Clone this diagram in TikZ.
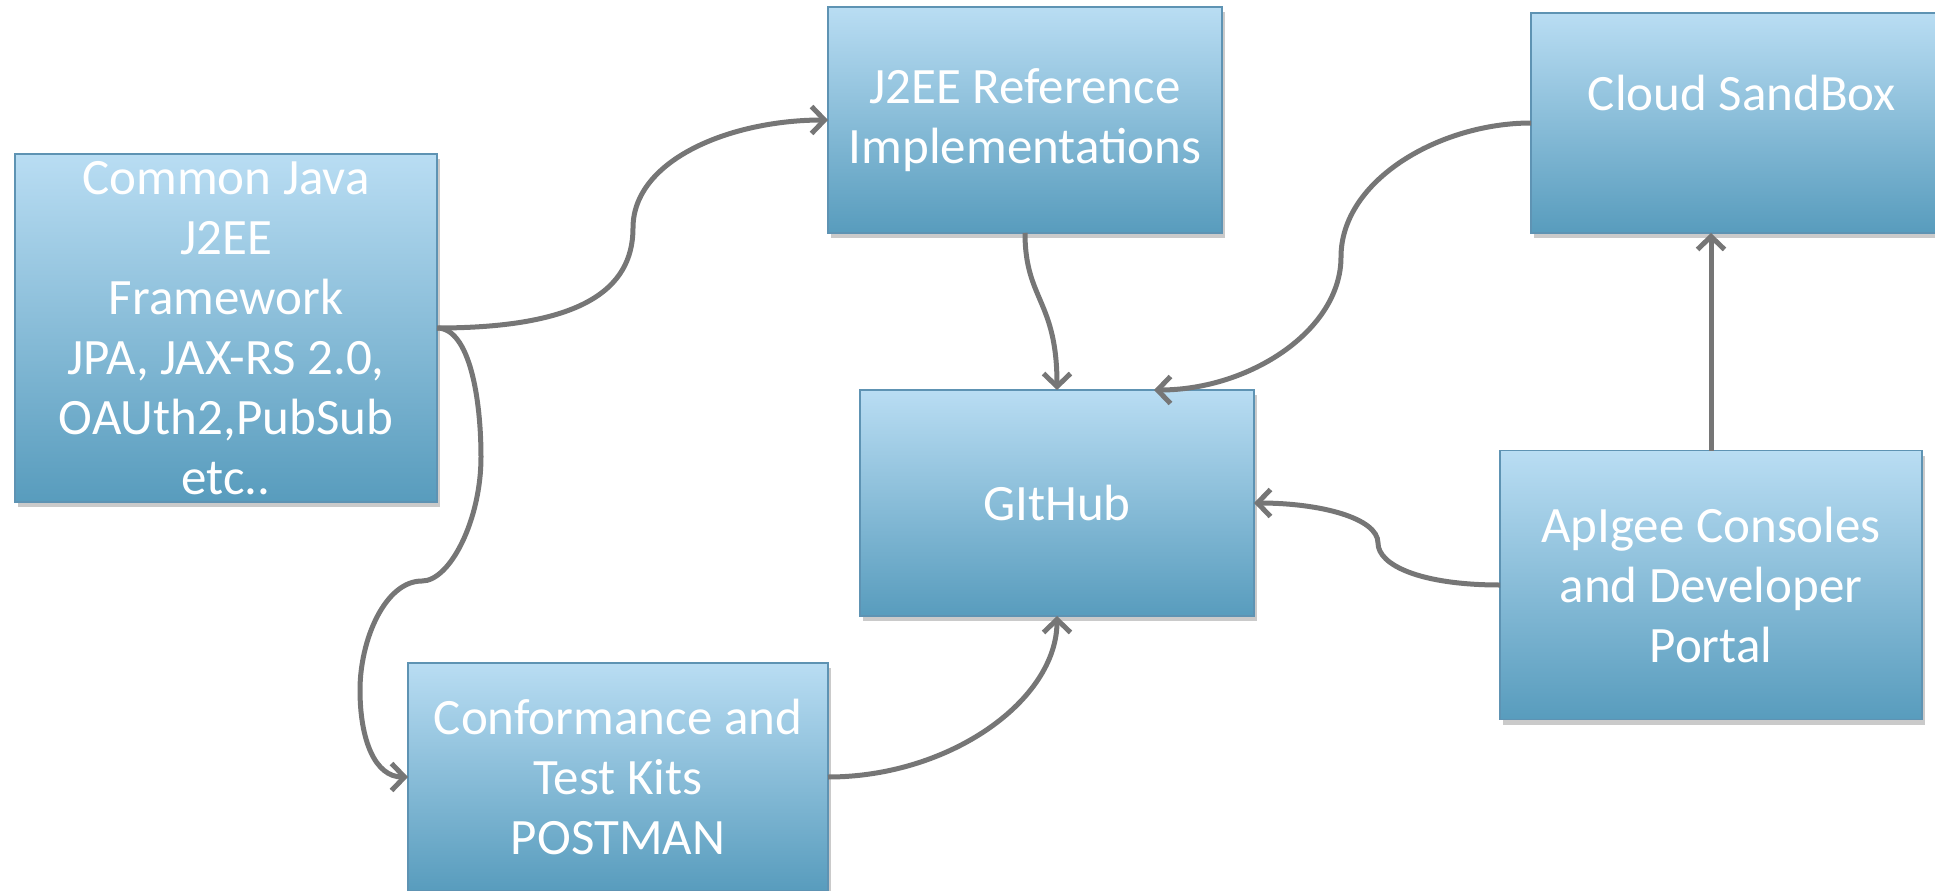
\documentclass[tikz,border=0pt]{standalone}
\usepackage{fontspec}
\setmainfont{Carlito}
\usetikzlibrary{arrows.meta,shadows,calc}
\definecolor{boxtop}{HTML}{B9DDF3}
\definecolor{boxbot}{HTML}{589CBD}
\definecolor{boxedge}{HTML}{5E93B3}
\definecolor{conncol}{HTML}{767676}
\tikzset{
  box/.style={rectangle, draw=boxedge, line width=1.2pt, top color=boxtop, bottom color=boxbot,
    inner sep=0pt, outer sep=0pt, text=white, align=center,
    font=\fontsize{51}{60}\selectfont,
    drop shadow={shadow xshift=3pt, shadow yshift=-5pt, opacity=0.35, fill=black!60}},
  conn/.style={draw=conncol, line width=5pt, -{Straight Barb[length=13pt,width=27pt]}}
}
\begin{document}
\begin{tikzpicture}[x=1pt,y=-1pt]
\useasboundingbox (0,0) rectangle (1935,891);
\node[box, minimum width=422pt, minimum height=348pt] (cj) at (226,328)
  {Common Java\\J2EE\\Framework\\JPA, JAX-RS 2.0,\\OAUth2,PubSub\\etc..};
\node[box, minimum width=420pt, minimum height=228pt] (conf) at (618,777)
  {Conformance and\\Test Kits\\POSTMAN};
\node[box, minimum width=394pt, minimum height=226pt] (ref) at (1025,120)
  {J2EE Reference\\Implementations};
\node[box, minimum width=394pt, minimum height=226pt] (git) at (1057,503)
  {GItHub};
\node[box, minimum width=422pt, minimum height=220pt] (cloud) at (1742,123)
  {Cloud SandBox\\\mbox{}};
\node[box, minimum width=422pt, minimum height=269pt] (api) at (1711,585)
  {ApIgee Consoles\\and Developer\\Portal};

\draw[conn] (cj.east) .. controls (580,328) and (633,290) .. (633,228)
  .. controls (633,160) and (730,120) .. (ref.west);
\draw[conn] (cj.east) .. controls (470,328) and (481,400) .. (481,457)
  .. controls (481,520) and (450,581) .. (422,581)
  .. controls (385,581) and (360,640) .. (360,690)
  .. controls (360,740) and (375,777) .. (conf.west);
\draw[conn] (ref.south) .. controls (1025,300) and (1057,300) .. (git.north);
\draw[conn] (cloud.west) .. controls (1440,123) and (1341,180) .. (1341,257)
  .. controls (1341,330) and (1250,390) .. ([xshift=-100pt]git.north east);
\draw[conn] (api.west) .. controls (1420,585) and (1378,565) .. (1378,543)
  .. controls (1378,518) and (1320,503) .. (git.east);
\draw[conn] (api.north) -- (api.north |- cloud.south);
\draw[conn] (conf.east) .. controls (950,777) and (1057,700) .. (git.south);
\end{tikzpicture}
\end{document}
